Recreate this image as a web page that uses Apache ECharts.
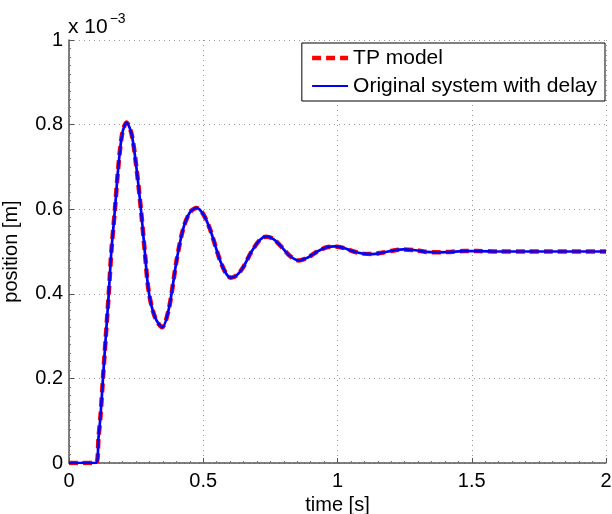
<!DOCTYPE html>
<html>
<head>
<meta charset="utf-8">
<script src="https://cdn.jsdelivr.net/npm/echarts@6/dist/echarts.min.js"></script>
<style>
html,body{margin:0;padding:0;background:#fff;}
#chart{width:612px;height:514px;}
</style>
</head>
<body>
<div id="chart"></div>
<script>
// time [s]
var timeValues = [0, 0.1, 0.11, 0.118, 0.127, 0.137, 0.148, 0.158, 0.171, 0.183, 0.198, 0.214, 0.233, 0.251, 0.268, 0.282, 0.297, 0.320, 0.347, 0.372, 0.401, 0.425, 0.450, 0.475, 0.500, 0.525, 0.562, 0.585, 0.603, 0.625, 0.649, 0.680, 0.712, 0.734, 0.760, 0.790, 0.822, 0.855, 0.890, 0.925, 0.960, 0.991, 1.025, 1.060, 1.095, 1.130, 1.165, 1.205, 1.245, 1.290, 1.330, 1.370, 1.420, 1.470, 1.520, 1.600, 1.700, 1.800, 2.0];
// position [m] x 1e-3, TP model
var tpModel = [0, 0, 0.06, 0.117, 0.205, 0.298, 0.400, 0.502, 0.599, 0.695, 0.778, 0.805, 0.778, 0.699, 0.599, 0.502, 0.405, 0.345, 0.321, 0.365, 0.480, 0.553, 0.592, 0.603, 0.588, 0.553, 0.480, 0.448, 0.438, 0.444, 0.463, 0.500, 0.528, 0.535, 0.530, 0.512, 0.490, 0.479, 0.486, 0.500, 0.510, 0.512, 0.508, 0.500, 0.495, 0.494, 0.497, 0.502, 0.505, 0.503, 0.499, 0.498, 0.499, 0.501, 0.501, 0.500, 0.500, 0.500, 0.500];
// position [m] x 1e-3, original system with delay
var originalSystem = [0, 0, 0.06, 0.117, 0.205, 0.298, 0.400, 0.502, 0.599, 0.695, 0.778, 0.805, 0.778, 0.699, 0.599, 0.502, 0.405, 0.345, 0.321, 0.365, 0.480, 0.553, 0.592, 0.603, 0.588, 0.553, 0.480, 0.448, 0.438, 0.444, 0.463, 0.500, 0.528, 0.535, 0.530, 0.512, 0.490, 0.479, 0.486, 0.500, 0.510, 0.512, 0.508, 0.500, 0.495, 0.494, 0.497, 0.502, 0.505, 0.503, 0.499, 0.498, 0.499, 0.501, 0.501, 0.500, 0.500, 0.500, 0.500];
var seriesNames = ['TP model', 'Original system with delay'];
var xTicks = [0, 0.5, 1, 1.5, 2];
var yTicks = [0, 0.2, 0.4, 0.6, 0.8, 1];

function pairs(xs, ys) { return xs.map(function (x, i) { return [x, ys[i]]; }); }

var chart = echarts.init(document.getElementById('chart'), null, {renderer: 'canvas'});
var font = 'Liberation Sans, Arial, sans-serif';
var redStyle = {color: '#ff0000', width: 4.5, type: [9, 5]};
var blueStyle = {color: '#0000ff', width: 2.7};
var axisCommon = {
  axisLine: {show: true, onZero: false, lineStyle: {color: '#555', width: 1.5}},
  axisTick: {show: true, inside: true, length: 5, lineStyle: {color: '#555'}},
  minorTick: {show: true, splitNumber: 10, length: 2, lineStyle: {color: '#777'}},
  splitLine: {show: true, lineStyle: {color: '#999', type: [1, 4], width: 1}},
  axisLabel: {color: '#000', fontSize: 20, fontFamily: font},
  nameTextStyle: {color: '#000', fontSize: 20, fontFamily: font}
};
chart.setOption({
  animation: false,
  backgroundColor: '#fff',
  grid: {left: 69, right: 6, top: 40, bottom: 51, containLabel: false, outerBoundsMode: 'none'},
  xAxis: Object.assign({}, axisCommon, {
    type: 'value', min: 0, max: 2, interval: 0.5,
    name: 'time [s]', nameLocation: 'middle', nameGap: 29,
    axisLabel: Object.assign({}, axisCommon.axisLabel, {margin: 8, formatter: function (v) { return xTicks.indexOf(v) >= 0 ? String(v) : ''; }})
  }),
  yAxis: Object.assign({}, axisCommon, {
    type: 'value', min: 0, max: 1, interval: 0.2,
    name: 'position [m]', nameLocation: 'middle', nameGap: 48,
    axisLabel: Object.assign({}, axisCommon.axisLabel, {margin: 6, formatter: function (v) {
      var r = Math.round(v * 10) / 10; return yTicks.indexOf(r) >= 0 ? String(r) : ''; }})
  }),
  legend: {
    show: true, orient: 'vertical', right: 7, top: 43,
    data: [
      {name: seriesNames[0], lineStyle: {color: '#ff0000', width: 4.5, type: [9, 5]}},
      {name: seriesNames[1], lineStyle: {color: '#0000ff', width: 2}}
    ],
    backgroundColor: '#fff', borderColor: '#000', borderWidth: 1, borderRadius: 0,
    padding: [4, 8, 4, 8], itemGap: 6, itemWidth: 36, itemHeight: 14,
    itemStyle: {opacity: 0, borderWidth: 0},
    textStyle: {fontSize: 21, fontFamily: font, color: '#000', lineHeight: 22},
    selectedMode: false
  },
  graphic: [{
    type: 'text', left: 68, top: 12,
    style: {
      text: '{a|x 10}{b|\u22123}',
      rich: {
        a: {fontSize: 21, fontFamily: font, fill: '#000', verticalAlign: 'bottom'},
        b: {fontSize: 14, fontFamily: font, fill: '#000', padding: [0, 0, 12, 2]}
      }
    }
  }],
  series: [{
    name: seriesNames[0], type: 'line', symbol: 'none', smooth: 0.3,
    data: pairs(timeValues, tpModel),
    lineStyle: redStyle,
    itemStyle: {color: '#ff0000'}, z: 2
  }, {
    name: seriesNames[1], type: 'line', symbol: 'none', smooth: 0.3,
    data: pairs(timeValues, originalSystem),
    lineStyle: blueStyle,
    itemStyle: {color: '#0000ff'}, z: 3
  }]
});
</script>
</body>
</html>
